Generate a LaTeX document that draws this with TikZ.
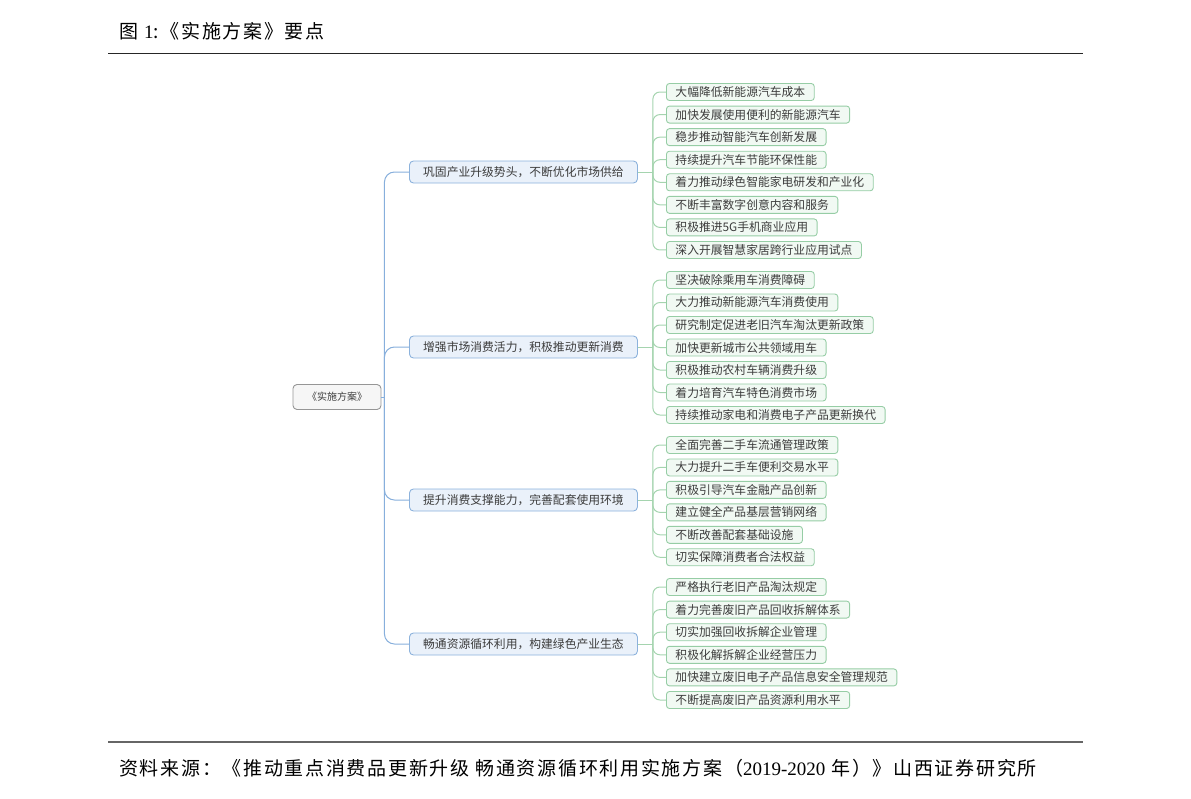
\documentclass[tikz,border=0pt]{standalone}
\usepackage{fontspec}
\setmainfont{Noto Sans CJK SC}
\newfontfamily\numfont{Liberation Serif}
\newfontfamily\capfont[LetterSpace=9]{Noto Sans CJK SC}
\definecolor{txt}{RGB}{60,60,60}
\definecolor{leafborder}{RGB}{150,205,165}
\definecolor{leaffill}{RGB}{241,249,243}
\definecolor{brborder}{RGB}{140,178,220}
\definecolor{brfill}{RGB}{234,241,250}
\definecolor{rootborder}{RGB}{150,150,150}
\definecolor{rootfill}{RGB}{246,246,246}
\definecolor{bconn}{RGB}{135,175,220}
\definecolor{gconn}{RGB}{165,212,175}
\begin{document}
\begin{tikzpicture}[x=1pt,y=-1pt,
  leaf/.style={draw=leafborder, fill=leaffill, rounded corners=3pt, anchor=west,
    inner xsep=9pt, inner ysep=0pt, minimum height=17pt, line width=0.9pt,
    font=\fontsize{11.8}{12}\selectfont, text=txt},
  branch/.style={draw=brborder, fill=brfill, rounded corners=4pt, anchor=west,
    inner xsep=6pt, inner ysep=0pt, minimum height=22pt, minimum width=228pt, line width=0.9pt,
    font=\fontsize{11.8}{12}\selectfont, text=txt},
  rootnode/.style={draw=rootborder, fill=rootfill, rounded corners=4pt,
    minimum width=88pt, minimum height=25pt, inner sep=0pt, line width=0.9pt,
    font=\fontsize{10}{11}\selectfont, text=txt},
  bline/.style={draw=bconn, line width=1pt},
  gline/.style={draw=gconn, line width=1pt},
  caption/.style={anchor=west, inner sep=0pt, text=black, font=\capfont\fontsize{19}{21}\selectfont}
]
\useasboundingbox (0,0) rectangle (1191,798);

\node[caption] (title) at (119,31) {图 {\numfont 1}:《实施方案》要点};
\draw[line width=1pt, black!85] (108,53) -- (1083,53);
\draw[line width=1.5pt, black!60] (108,742) -- (1083,742);
\node[caption] (source) at (119,768) {资料来源：《推动重点消费品更新升级 畅通资源循环利用实施方案（{\numfont 2019-2020} 年）》山西证券研究所};

\node[rootnode] (root) at (337,397) {《实施方案》};

\node[branch] (b1) at (409,172) {巩固产业升级势头，不断优化市场供给};
\node[branch] (b2) at (409,347) {增强市场消费活力，积极推动更新消费};
\node[branch] (b3) at (409,500) {提升消费支撑能力，完善配套使用环境};
\node[branch] (b4) at (409,644) {畅通资源循环利用，构建绿色产业生态};

\draw[bline] (root.east) -- ++(3,0) coordinate (rs);
\foreach \b in {b1,b2,b3,b4}{
  \draw[bline, rounded corners=10pt] (rs) |- (\b.west);
}

% group 1
\draw[gline] (b1.east) -- ++(15,0) coordinate (j1);
\foreach \t [count=\k] in {大幅降低新能源汽车成本,加快发展使用便利的新能源汽车,稳步推动智能汽车创新发展,持续提升汽车节能环保性能,着力推动绿色智能家电研发和产业化,不断丰富数字创意内容和服务,积极推进5G手机商业应用,深入开展智慧家居跨行业应用试点}{
  \node[leaf] (a\k) at (666,{92+(\k-1)*22.57}) {\t};
  \draw[gline, rounded corners=7pt] (j1) |- (a\k.west);
}
% group 2
\draw[gline] (b2.east) -- ++(15,0) coordinate (j2);
\foreach \t [count=\k] in {坚决破除乘用车消费障碍,大力推动新能源汽车消费使用,研究制定促进老旧汽车淘汰更新政策,加快更新城市公共领域用车,积极推动农村车辆消费升级,着力培育汽车特色消费市场,持续推动家电和消费电子产品更新换代}{
  \node[leaf] (c\k) at (666,{280+(\k-1)*22.5}) {\t};
  \draw[gline, rounded corners=7pt] (j2) |- (c\k.west);
}
% group 3
\draw[gline] (b3.east) -- ++(15,0) coordinate (j3);
\foreach \t [count=\k] in {全面完善二手车流通管理政策,大力提升二手车便利交易水平,积极引导汽车金融产品创新,建立健全产品基层营销网络,不断改善配套基础设施,切实保障消费者合法权益}{
  \node[leaf] (d\k) at (666,{445+(\k-1)*22.45}) {\t};
  \draw[gline, rounded corners=7pt] (j3) |- (d\k.west);
}
% group 4
\draw[gline] (b4.east) -- ++(15,0) coordinate (j4);
\foreach \t [count=\k] in {严格执行老旧产品淘汰规定,着力完善废旧产品回收拆解体系,切实加强回收拆解企业管理,积极化解拆解企业经营压力,加快建立废旧电子产品信息安全管理规范,不断提高废旧产品资源利用水平}{
  \node[leaf] (e\k) at (666,{587+(\k-1)*22.6}) {\t};
  \draw[gline, rounded corners=7pt] (j4) |- (e\k.west);
}
\end{tikzpicture}
\end{document}
